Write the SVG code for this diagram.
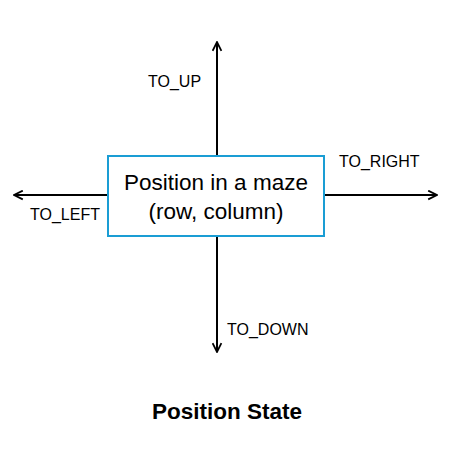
<svg xmlns="http://www.w3.org/2000/svg" width="454" height="454" viewBox="0 0 454 454">
<style>
.lbl{font-family:"Liberation Sans",Arial,sans-serif;font-size:16px;fill:#000}
.box{fill:#fff;stroke:#1a9dd4;stroke-width:2}
.main{font-family:"Liberation Sans",Arial,sans-serif;font-size:22.5px;fill:#000;text-anchor:middle}
.title{font-family:"Liberation Sans",Arial,sans-serif;font-size:22.5px;font-weight:bold;fill:#000;text-anchor:middle}
.conn{stroke:#000;stroke-width:2;fill:none;marker-end:url(#arr)}
</style>
<defs>
<marker id="arr" viewBox="0 0 10 10" refX="9" refY="5" markerWidth="5.5" markerHeight="5.5" orient="auto" markerUnits="strokeWidth">
<path d="M1,1 L9,5 L1,9" fill="none" stroke="#000" stroke-width="1.6"/>
</marker>
</defs>
<rect width="454" height="454" fill="#fff"/>
<g id="connectors">
<line class="conn" x1="217" y1="156" x2="217" y2="42"/>
<line class="conn" x1="217" y1="236" x2="217" y2="352"/>
<line class="conn" x1="108" y1="195" x2="14" y2="195"/>
<line class="conn" x1="324" y1="195" x2="437" y2="195"/>
</g>
<g id="node-position">
<rect class="box" x="108" y="156" width="216" height="80"/>
<text class="main" x="216" y="190">Position in a maze</text>
<text class="main" x="216" y="219">(row, column)</text>
</g>
<g id="label-up"><text class="lbl" x="148" y="87">TO_UP</text></g>
<g id="label-right"><text class="lbl" x="339" y="167">TO_RIGHT</text></g>
<g id="label-left"><text class="lbl" x="30" y="220">TO_LEFT</text></g>
<g id="label-down"><text class="lbl" x="227" y="335">TO_DOWN</text></g>
<g id="title"><text class="title" x="227" y="419">Position State</text></g>
</svg>
